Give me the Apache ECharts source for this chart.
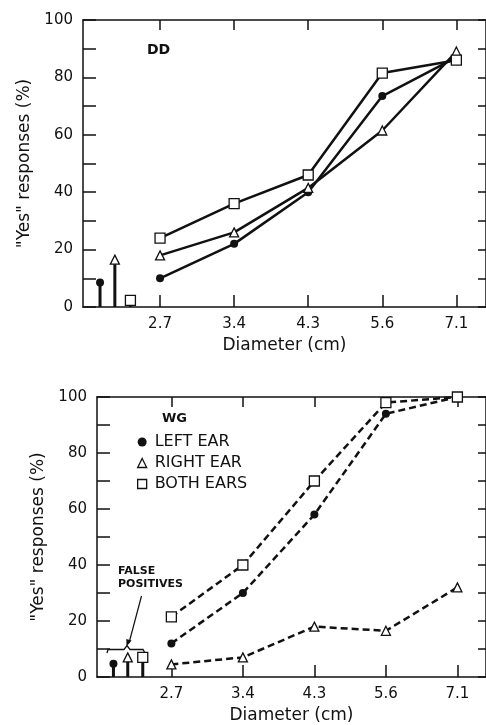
<!DOCTYPE html>
<html>
<head>
<meta charset="utf-8">
<script src="https://cdn.jsdelivr.net/npm/echarts@6/dist/echarts.min.js"></script>
<style>
  html, body { margin: 0; padding: 0; background: #fff; }
  #chart { width: 486px; height: 725px; }
</style>
</head>
<body>
<div id="chart"></div>
<script>
// diameters shown on the x axis (positions 0..4)
const diameters = ['2.7', '3.4', '4.3', '5.6', '7.1']
const yTicks = [0, 20, 40, 60, 80, 100]

// subject DD (top panel)
const ddLeft = [10, 22, 40, 73.5, 87]
const ddRight = [18, 26, 41.5, 61.5, 89]
const ddBoth = [24, 36, 46, 81.5, 86]
const ddFalse = [8.5, 16.5, 2.3] // left, right, both

// subject WG (bottom panel)
const wgLeft = [12, 30, 58, 94, 100]
const wgRight = [4.5, 7, 18, 16.5, 32]
const wgBoth = [21.5, 40, 70, 98, 100]
const wgFalse = [4.7, 7, 7]

// x positions of the false-positive stems (left of 2.7)
const falseX = [-0.81, -0.61, -0.4]

const ink = '#111'
const font = 'DejaVu Sans'
const idx = diameters.map((d, i) => i)

const chart = echarts.init(document.getElementById('chart'))

function xAxes(grid) {
  return [
    {
      type: 'value', gridIndex: grid, position: 'bottom', min: -1.04, max: 4.4,
      name: 'Diameter (cm)', nameLocation: 'middle', nameGap: 30,
      nameTextStyle: { fontFamily: font, fontSize: 17, color: ink },
      axisLine: { onZero: false, lineStyle: { color: ink, width: 1.5 } },
      axisTick: { inside: true, length: 12, customValues: idx, lineStyle: { color: ink, width: 1.5 } },
      axisLabel: { customValues: idx, formatter: v => diameters[Math.round(v)], fontFamily: font, fontSize: 15, color: ink, margin: 10 },
      splitLine: { show: false }
    },
    {
      type: 'value', gridIndex: grid, position: 'top', min: -1.04, max: 4.4,
      axisLine: { onZero: false, lineStyle: { color: ink, width: 1.5 } },
      axisTick: { inside: true, length: 10, customValues: idx, lineStyle: { color: ink, width: 1.5 } },
      axisLabel: { show: false },
      splitLine: { show: false }
    }
  ]
}

function yAxes(grid) {
  return [
    {
      type: 'value', gridIndex: grid, position: 'left', min: 0, max: 100, interval: 10,
      name: '"Yes" responses (%)', nameLocation: 'middle', nameGap: 43,
      nameTextStyle: { fontFamily: font, fontSize: 17, color: ink },
      axisLine: { show: true, onZero: false, lineStyle: { color: ink, width: 1.5 } },
      axisTick: { inside: true, length: 13, lineStyle: { color: ink, width: 1.5 } },
      axisLabel: { formatter: v => (yTicks.includes(v) ? v : ''), fontFamily: font, fontSize: 15, color: ink, margin: 10 },
      splitLine: { show: false }
    },
    {
      type: 'value', gridIndex: grid, position: 'right', min: 0, max: 100, interval: 10,
      axisLine: { show: true, onZero: false, lineStyle: { color: ink, width: 1.5 } },
      axisTick: { inside: true, length: 8, lineStyle: { color: ink, width: 1.5 } },
      axisLabel: { show: false },
      splitLine: { show: false }
    }
  ]
}

const symbols = {
  circle: { symbol: 'circle', symbolSize: 8, itemStyle: { color: ink } },
  triangle: { symbol: 'triangle', symbolSize: 9, itemStyle: { color: '#fff', borderColor: ink, borderWidth: 1.3 } },
  square: { symbol: 'rect', symbolSize: 10, itemStyle: { color: '#fff', borderColor: ink, borderWidth: 1.3 } }
}

function curve(name, values, shape, grid, dashed) {
  return Object.assign({
    name: name, type: 'line', xAxisIndex: grid * 2, yAxisIndex: grid * 2,
    data: values.map((v, i) => [i, v]),
    lineStyle: { color: ink, width: 2.5, type: dashed ? [7, 4] : 'solid' },
    clip: false, z: 3
  }, symbols[shape])
}

function stem(name, x, v, shape, grid) {
  return Object.assign({
    name: name, type: 'line', xAxisIndex: grid * 2, yAxisIndex: grid * 2,
    data: [{ value: [x, 0], symbol: 'none' }, { value: [x, v] }],
    lineStyle: { color: ink, width: 3 },
    clip: false, z: 2
  }, symbols[shape])
}

const shapes = ['circle', 'triangle', 'square']

const option = {
  backgroundColor: '#fff',
  animation: false,
  grid: [
    { left: 83, top: 20, right: -2, height: 287 },
    { left: 97, top: 397, right: -2, height: 283 }
  ],
  xAxis: xAxes(0).concat(xAxes(1)),
  yAxis: yAxes(0).concat(yAxes(1)),
  legend: {
    left: 132, top: 429, orient: 'vertical', selectedMode: false,
    itemWidth: 9, itemHeight: 9, itemGap: 5,
    textStyle: { fontFamily: font, fontSize: 16, color: ink, padding: [0, 0, 0, 3] },
    data: [
      { name: 'LEFT EAR', icon: 'circle', itemStyle: { color: ink } },
      { name: 'RIGHT EAR', icon: 'triangle', itemStyle: { color: '#fff', borderColor: ink, borderWidth: 1.3 } },
      { name: 'BOTH EARS', icon: 'rect', itemStyle: { color: '#fff', borderColor: ink, borderWidth: 1.3 } }
    ]
  },
  graphic: [
    { type: 'text', left: 147, top: 43, style: { text: 'DD', font: '600 14px "DejaVu Sans"', fill: ink } },
    { type: 'text', left: 162, top: 412, style: { text: 'WG', font: '600 13px "DejaVu Sans"', fill: ink } },
    { type: 'text', left: 118, top: 565, style: { text: 'FALSE\nPOSITIVES', font: 'bold 11px "DejaVu Sans"', fill: ink, align: 'center', lineHeight: 13, x: 30 } },
    { type: 'line', shape: { x1: 141.5, y1: 596, x2: 129, y2: 643 }, style: { stroke: ink, lineWidth: 1.2 } },
    { type: 'polygon', shape: { points: [[126.5, 646.5], [126.3, 639], [131.6, 640.4]] }, style: { fill: ink } },
    { type: 'polyline', shape: { points: [[107, 653], [108, 649.5], [124, 649.5], [127, 645.5], [130, 649.5], [143, 649.5], [145, 653]] }, style: { stroke: ink, lineWidth: 1.3, fill: null } }
  ],
  series: [
    curve('DD left', ddLeft, 'circle', 0, false),
    curve('DD right', ddRight, 'triangle', 0, false),
    curve('DD both', ddBoth, 'square', 0, false),
    curve('LEFT EAR', wgLeft, 'circle', 1, true),
    curve('RIGHT EAR', wgRight, 'triangle', 1, true),
    curve('BOTH EARS', wgBoth, 'square', 1, true)
  ]
    .concat(ddFalse.map((v, i) => stem('DD false ' + i, falseX[i], v, shapes[i], 0)))
    .concat(wgFalse.map((v, i) => stem('WG false ' + i, falseX[i], v, shapes[i], 1)))
}

chart.setOption(option)
</script>
</body>
</html>
